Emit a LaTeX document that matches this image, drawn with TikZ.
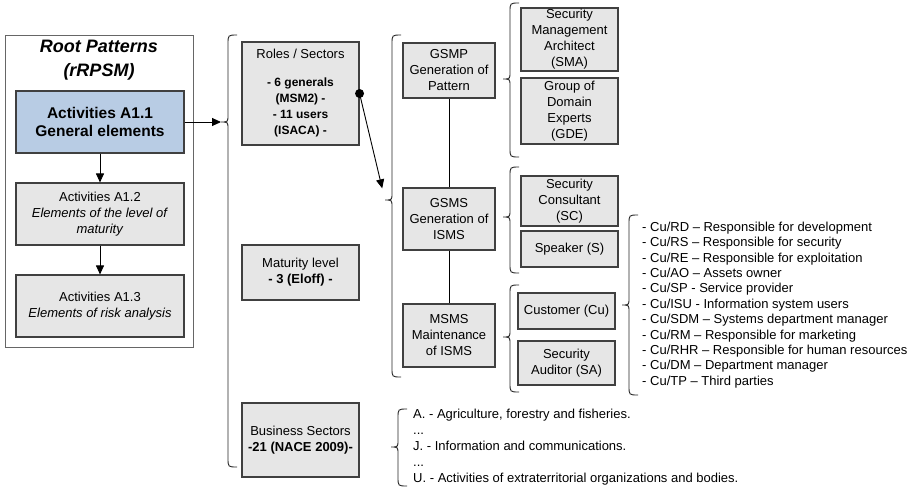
\documentclass[tikz,border=0pt]{standalone}
\usepackage{fontspec}
\setmainfont{Liberation Sans}
\usetikzlibrary{arrows.meta}
\definecolor{boxgray}{RGB}{230,230,230}
\definecolor{boxblue}{RGB}{184,204,228}
% #1 tip name, #2 x, #3 top, #4 tip, #5 bottom
\newcommand{\sidebrace}[5]{%
  \draw[brace] (#2+9,#3) .. controls (#2,#3) .. (#2,#3+9) -- (#2,#4-7)
    .. controls (#2,#4) .. (#2-7,#4) .. controls (#2,#4) .. (#2,#4+7)
    -- (#2,#5-9) .. controls (#2,#5) .. (#2+9,#5);
  \coordinate (#1) at (#2-7,#4);}
\begin{document}
\begin{tikzpicture}[x=1pt,y=-1pt,
  box/.style={draw=black!75,fill=boxgray,line width=1.1pt,align=center,inner sep=1pt,
    font=\fontsize{13}{16}\selectfont},
  frame/.style={draw=black!60,fill=white,line width=0.9pt},
  brace/.style={line width=0.9pt,black!85},
  arr/.style={-{Triangle[length=9pt,width=8pt]},line width=0.9pt},
  itemlist/.style={anchor=west,align=left,inner sep=0pt,font=\fontsize{13}{15.4}\selectfont}]
  \useasboundingbox (0,0) rectangle (912,493);

  \node[frame,minimum width=188pt,minimum height=312pt] (root) at (99,191) {};
  \node[font=\fontsize{18}{24}\selectfont\bfseries\itshape,align=center] (title) at (99,60) {Root Patterns\\(rRPSM)};
  \node[box,fill=boxblue,font=\fontsize{15.5}{18}\selectfont\bfseries,minimum width=168pt,minimum height=62pt] (a11) at (100,122) {Activities A1.1\\General elements};
  \node[box,minimum width=168pt,minimum height=62pt] (a12) at (100,214) {Activities A1.2\\\textit{Elements of the level of}\\\textit{maturity}};
  \node[box,minimum width=168pt,minimum height=62pt] (a13) at (100,306) {Activities A1.3\\\textit{Elements of risk analysis}};
  \draw[arr] (a11) -- (a12);
  \draw[arr] (a12) -- (a13);

  \sidebrace{b1}{228}{35}{122}{467}
  \draw[arr] (a11) -- (b1);

  \node[box,minimum width=117pt,minimum height=103pt] (roles) at (300.5,93.5) {Roles / Sectors\\[12pt]
    \fontsize{12}{15}\selectfont\bfseries - 6 generals\\\fontsize{12}{15}\selectfont\bfseries (MSM2) -\\
    \fontsize{12}{15}\selectfont\bfseries - 11 users\\\fontsize{12}{15}\selectfont\bfseries (ISACA) -};
  \node[box,minimum width=117pt,minimum height=55pt] (maturity) at (300.5,272.5) {Maturity level\\\textbf{- 3 (Eloff) -}};
  \node[box,minimum width=117pt,minimum height=74pt] (business) at (300.5,440) {Business Sectors\\\textbf{-21 (NACE 2009)-}};

  \sidebrace{b2}{392}{35}{200}{377}
  \fill (roles.east) circle (4.5pt);
  \draw[arr,shorten >=12pt] (roles.east) -- (b2);

  \node[box,minimum width=92pt,minimum height=55pt] (gsmp) at (449,70.5) {GSMP\\Generation of\\Pattern};
  \node[box,minimum width=92pt,minimum height=62pt] (gsms) at (449,219) {GSMS\\Generation of\\ISMS};
  \node[box,minimum width=92pt,minimum height=63pt] (msms) at (449,335.5) {MSMS\\Maintenance\\of ISMS};
  \draw[line width=0.8pt] (gsmp) -- (gsms);
  \draw[line width=0.8pt] (gsms) -- (msms);

  \sidebrace{b3}{510}{3}{79}{157}
  \sidebrace{b4}{510}{167}{217}{273}
  \sidebrace{b5}{510}{285}{337}{392}

  \node[box,minimum width=97pt,minimum height=63pt] (sma) at (569.5,39.5) {Security\\Management\\Architect\\(SMA)};
  \node[box,minimum width=97pt,minimum height=66pt] (gde) at (569.5,111) {Group of\\Domain\\Experts\\(GDE)};
  \node[box,minimum width=97pt,minimum height=50pt] (sc) at (569.5,201) {Security\\Consultant\\(SC)};
  \node[box,minimum width=97pt,minimum height=36pt] (speaker) at (569.5,249) {Speaker (S)};
  \node[box,minimum width=97pt,minimum height=36pt] (customer) at (566.5,311) {Customer (Cu)};
  \node[box,minimum width=97pt,minimum height=44pt] (auditor) at (566.5,363) {Security\\Auditor (SA)};

  \sidebrace{b6}{629}{215}{305}{395}
  \node[itemlist] (culist) at (642,305) {- Cu/RD – Responsible for development\\
    - Cu/RS – Responsible for security\\
    - Cu/RE – Responsible for exploitation\\
    - Cu/AO – Assets owner\\
    - Cu/SP - Service provider\\
    - Cu/ISU - Information system users\\
    - Cu/SDM – Systems department manager\\
    - Cu/RM – Responsible for marketing\\
    - Cu/RHR – Responsible for human resources\\
    - Cu/DM – Department manager\\
    - Cu/TP – Third parties};

  \sidebrace{b7}{398}{409}{447}{486}
  \node[itemlist,font=\fontsize{13}{16}\selectfont] (nacelist) at (413,447) {A. - Agriculture, forestry and fisheries.\\
    ...\\
    J. - Information and communications.\\
    ...\\
    U. - Activities of extraterritorial organizations and bodies.};
\end{tikzpicture}
\end{document}
